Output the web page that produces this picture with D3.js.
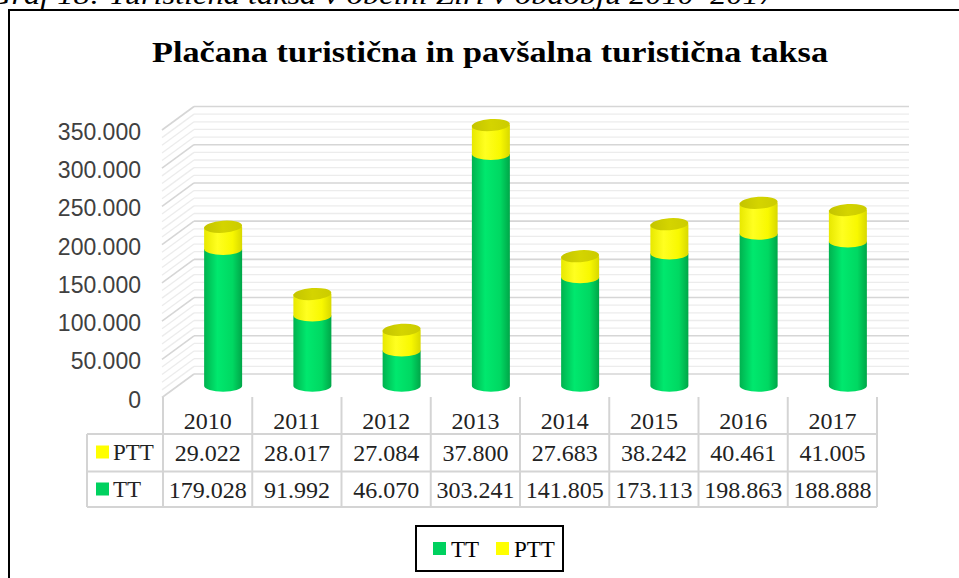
<!DOCTYPE html>
<html><head><meta charset="utf-8">
<script src="https://cdn.jsdelivr.net/npm/d3@7"></script>
<style>
html,body{margin:0;padding:0;background:#fff;}
svg{display:block;}
</style></head>
<body>
<svg id="chart" width="959" height="578"></svg>
<script>
const years = ["2010","2011","2012","2013","2014","2015","2016","2017"];
const ttValues = [179028, 91992, 46070, 303241, 141805, 173113, 198863, 188888];
const pttValues = [29022, 28017, 27084, 37800, 27683, 38242, 40461, 41005];
const yTickValues = [0, 50000, 100000, 150000, 200000, 250000, 300000, 350000];
const minorStep = 10000;
const seriesNames = ["TT", "PTT"];
const titleText = "Plačana turistična in pavšalna turistična taksa";
const captionText = "Graf 18: Turistična taksa v občini Žiri v obdobju 2010–2017";

const svg = d3.select("#chart");
const loc = d3.formatLocale({decimal: ",", thousands: ".", grouping: [3], currency: ["", ""]});
const fmt = loc.format(",d");

const green = "#00d15f", yellow = "#ffff00";
const depthX = 31, depthY = 23.5;

// frame
svg.append("rect").attr("x", 9).attr("y", 10).attr("width", 980).attr("height", 620)
  .attr("fill", "#fff").attr("stroke", "#000").attr("stroke-width", 2);

// caption (cut off at top, as in the source)
svg.append("text").attr("x", -12).attr("y", 4)
  .attr("font-family", "Liberation Serif").attr("font-style", "italic")
  .attr("font-size", 28).attr("textLength", 787).attr("lengthAdjust", "spacingAndGlyphs")
  .attr("fill", "#000").text(captionText);

// title
svg.append("text").attr("x", 490).attr("y", 62).attr("text-anchor", "middle")
  .attr("font-family", "Liberation Serif").attr("font-weight", "bold")
  .attr("font-size", 30).attr("textLength", 676).attr("lengthAdjust", "spacingAndGlyphs")
  .attr("fill", "#000").text(titleText);

const x = d3.scaleBand().domain(years).range([163, 877]).padding(0);
const y = d3.scaleLinear().domain([0, 350000]).range([397.5, 130]);
const backLeft = 163 + depthX, backRight = 909;

// gradients
const defs = svg.append("defs");
function grad(id, stops) {
  const g = defs.append("linearGradient").attr("id", id).attr("x1", 0).attr("x2", 1).attr("y1", 0).attr("y2", 0);
  stops.forEach(s => g.append("stop").attr("offset", s[0]).attr("stop-color", s[1]));
}
grad("gGreen", [[0, "#00b24f"], [0.35, "#00e86e"], [0.75, "#00d862"], [1, "#00a648"]]);
grad("gYellow", [[0, "#e8e800"], [0.35, "#ffff20"], [0.75, "#f8f800"], [1, "#d8d800"]]);
grad("gYellowTop", [[0, "#c4c400"], [0.5, "#d4d400"], [1, "#cccc00"]]);

// gridlines (minor + major) on back wall and left side wall
const minorVals = d3.range(0, 350000 + 1, minorStep);
const grid = svg.append("g");
minorVals.forEach(v => {
  const major = v % 50000 === 0;
  const col = major ? "#d6d6d6" : "#ececec";
  const w = major ? 1.6 : 1.3;
  const yb = y(v) - depthY;
  grid.append("line").attr("x1", backLeft).attr("x2", backRight).attr("y1", yb).attr("y2", yb)
    .attr("stroke", col).attr("stroke-width", w);
  grid.append("line").attr("x1", 162).attr("x2", backLeft).attr("y1", y(v)).attr("y2", yb)
    .attr("stroke", col).attr("stroke-width", w);
});

// y axis labels
svg.append("g").selectAll("text").data(yTickValues).join("text")
  .attr("x", 141).attr("y", d => y(d) + 2).attr("text-anchor", "end")
  .attr("dominant-baseline", "central")
  .attr("font-family", "Liberation Sans").attr("font-size", 23).attr("fill", "#404040")
  .text(d => fmt(d));

// cylinders
const rx = 19, ryTop = 6;
function cx(i) { return x(years[i]) + x.bandwidth() / 2 + depthX / 2; }
function cy(v) { return y(v) - depthY / 2; }
function sidePath(c, yTop, yBot) {
  return `M${c - rx},${yTop} L${c - rx},${yBot} A${rx},${ryTop} 0 0 0 ${c + rx},${yBot} L${c + rx},${yTop} Z`;
}
const bars = svg.append("g");
years.forEach((yr, i) => {
  const c = cx(i);
  const y0 = cy(0), y1 = cy(ttValues[i]), y2 = cy(ttValues[i] + pttValues[i]);
  bars.append("path").attr("d", sidePath(c, y1, y0)).attr("fill", "url(#gGreen)");
  bars.append("path").attr("d", sidePath(c, y2, y1)).attr("fill", "url(#gYellow)");
  bars.append("ellipse").attr("cx", c).attr("cy", y2).attr("rx", rx).attr("ry", ryTop)
    .attr("fill", "url(#gYellowTop)").attr("transform", `rotate(-4 ${c} ${y2})`);
});

// data table
const tbl = svg.append("g");
const lineCol = "#d4d4d4";
const rowTop = 397, r1 = 434, r2 = 471.5, r3 = 507;
const labelLeft = 87;
[r1, r2, r3].forEach(yy => tbl.append("line").attr("x1", labelLeft).attr("x2", 877).attr("y1", yy).attr("y2", yy)
  .attr("stroke", lineCol).attr("stroke-width", 2));
tbl.append("line").attr("x1", labelLeft).attr("x2", labelLeft).attr("y1", r1).attr("y2", r3).attr("stroke", lineCol).attr("stroke-width", 2);
years.forEach(yr => tbl.append("line").attr("x1", x(yr)).attr("x2", x(yr)).attr("y1", rowTop).attr("y2", r3)
  .attr("stroke", lineCol).attr("stroke-width", 2));
tbl.append("line").attr("x1", 877).attr("x2", 877).attr("y1", rowTop).attr("y2", r3).attr("stroke", lineCol).attr("stroke-width", 2);

const serif = "Liberation Serif";
tbl.selectAll("text.yr").data(years).join("text").attr("class", "yr")
  .attr("x", d => x(d) + x.bandwidth() / 2).attr("y", 421).attr("text-anchor", "middle")
  .attr("dominant-baseline", "central").attr("font-family", serif).attr("font-size", 24).attr("fill", "#222")
  .text(d => d);
const rows = [{name: "PTT", vals: pttValues, col: yellow, yc: 452.5}, {name: "TT", vals: ttValues, col: green, yc: 489.5}];
rows.forEach(r => {
  tbl.append("rect").attr("x", 96).attr("y", r.yc - 7).attr("width", 13).attr("height", 13).attr("fill", r.col);
  tbl.append("text").attr("x", 113).attr("y", r.yc).attr("dominant-baseline", "central")
    .attr("font-family", serif).attr("font-size", 23).attr("fill", "#222").text(r.name);
  r.vals.forEach((v, i) => tbl.append("text").attr("x", x(years[i]) + x.bandwidth() / 2).attr("y", r.yc)
    .attr("text-anchor", "middle").attr("dominant-baseline", "central")
    .attr("font-family", serif).attr("font-size", 24).attr("fill", "#222").text(fmt(v)));
});

// legend
const lg = svg.append("g");
lg.append("rect").attr("x", 416).attr("y", 526).attr("width", 147).attr("height", 45)
  .attr("fill", "#fff").attr("stroke", "#000").attr("stroke-width", 2);
const legendItems = [{name: seriesNames[0], col: green, x: 433}, {name: seriesNames[1], col: yellow, x: 496}];
legendItems.forEach(it => {
  lg.append("rect").attr("x", it.x).attr("y", 542).attr("width", 13).attr("height", 13).attr("fill", it.col);
  lg.append("text").attr("x", it.x + 18).attr("y", 549).attr("dominant-baseline", "central")
    .attr("font-family", serif).attr("font-size", 23).attr("fill", "#000").text(it.name);
});
</script>
</body></html>
